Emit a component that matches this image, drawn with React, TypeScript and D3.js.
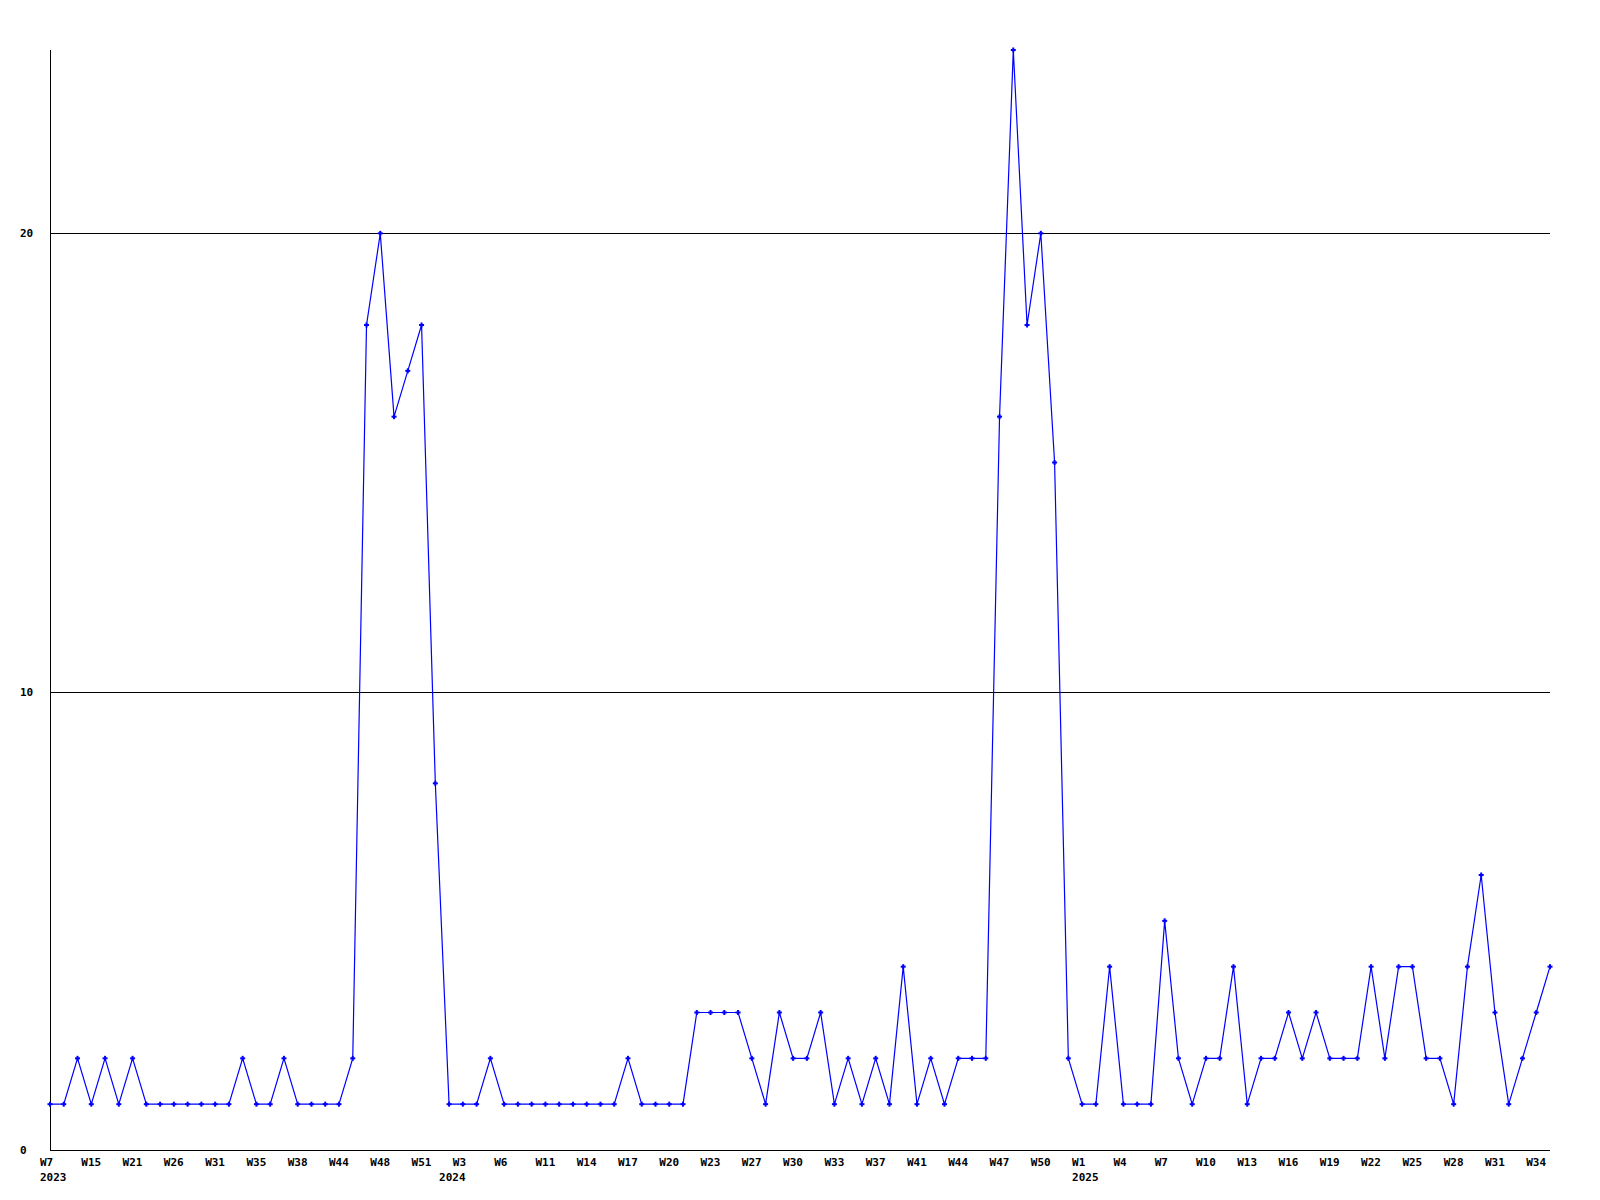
import React from "react";
import * as d3 from "d3";

const values: number[] = [
  1, 1, 2, 1, 2, 1, 2, 1, 1, 1,
  1, 1, 1, 1, 2, 1, 1, 2, 1, 1,
  1, 1, 2, 18, 20, 16, 17, 18, 8, 1,
  1, 1, 2, 1, 1, 1, 1, 1, 1, 1,
  1, 1, 2, 1, 1, 1, 1, 3, 3, 3,
  3, 2, 1, 3, 2, 2, 3, 1, 2, 1,
  2, 1, 4, 1, 2, 1, 2, 2, 2, 16,
  24, 18, 20, 15, 2, 1, 1, 4, 1, 1,
  1, 5, 2, 1, 2, 2, 4, 1, 2, 2,
  3, 2, 3, 2, 2, 2, 4, 2, 4, 4,
  2, 2, 1, 4, 6, 3, 1, 2, 3, 4,
];

const weekLabels: string[] = [
  "W7", "W15", "W21", "W26", "W31", "W35", "W38", "W44", "W48", "W51",
  "W3", "W6", "W11", "W14", "W17", "W20", "W23", "W27", "W30", "W33",
  "W37", "W41", "W44", "W47", "W50", "W1", "W4", "W7", "W10", "W13",
  "W16", "W19", "W22", "W25", "W28", "W31", "W34",
];
const labelEvery = 3;

const yearLabels: string[] = ["2023", "2024", "2025"];
const yearIndex: number[] = [0, 29, 75];

const yTicks: number[] = [0, 10, 20];
const gridTicks: number[] = [10, 20];

const W = 1600;
const H = 1200;
const left = 50;
const right = 1550;
const top = 50;
const bottom = 1150;

export default function App() {
  const x = d3.scaleLinear().domain([0, values.length - 1]).range([left, right]);
  const y = d3.scaleLinear().domain([0, 24]).range([bottom, top]);
  const line = d3
    .line<number>()
    .x((_, i) => x(i))
    .y((d) => y(d));
  const font = "'DejaVu Sans Mono', monospace";

  return (
    <svg
      width={W}
      height={H}
      style={{ position: "absolute", left: 0, top: 0, background: "#fff" }}
    >
      <rect x={0} y={0} width={W} height={H} fill="#fff" />
      {gridTicks.map((t) => (
        <line
          key={"g" + t}
          x1={left}
          x2={right}
          y1={Math.round(y(t)) + 0.5}
          y2={Math.round(y(t)) + 0.5}
          stroke="#000"
          strokeWidth={1}
          shapeRendering="crispEdges"
        />
      ))}
      <line x1={left + 0.5} x2={left + 0.5} y1={top} y2={bottom} stroke="#000" shapeRendering="crispEdges" />
      <line x1={left} x2={right} y1={bottom + 0.5} y2={bottom + 0.5} stroke="#000" shapeRendering="crispEdges" />
      {yTicks.map((t) => (
        <text
          key={"y" + t}
          x={20}
          y={y(t) + 4}
          fontFamily={font}
          fontWeight="bold"
          fontSize={11}
          fill="#000"
        >
          {t}
        </text>
      ))}
      {weekLabels.map((lab, k) => (
        <text
          key={"w" + k}
          x={x(k * labelEvery) - 10}
          y={1166}
          fontFamily={font}
          fontWeight="bold"
          fontSize={11}
          fill="#000"
        >
          {lab}
        </text>
      ))}
      {yearLabels.map((lab, k) => (
        <text
          key={"yr" + k}
          x={x(yearIndex[k]) - 10}
          y={1181}
          fontFamily={font}
          fontWeight="bold"
          fontSize={11}
          fill="#000"
        >
          {lab}
        </text>
      ))}
      <path d={line(values) || ""} fill="none" stroke="#0000ff" strokeWidth={1.2} />
      {values.map((v, i) => {
        const cx = x(i);
        const cy = y(v);
        return (
          <g key={"m" + i} fill="#0000ff">
            <rect x={cx - 2.5} y={cy - 1} width={5} height={2} />
            <rect x={cx - 1} y={cy - 2.5} width={2} height={5} />
          </g>
        );
      })}
    </svg>
  );
}
